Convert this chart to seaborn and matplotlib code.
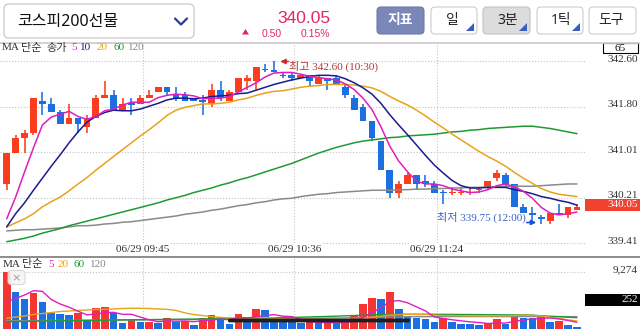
import numpy as np
import pandas as pd
import matplotlib
matplotlib.use("Agg")
import matplotlib.pyplot as plt
import seaborn as sns
from matplotlib.patches import FancyBboxPatch, Rectangle, Polygon

# ---------------- data ----------------
TITLE = "코스피200선물"
CHANGE = "0.50"
CHANGE_PCT = "0.15%"
BUTTONS = ["지표", "일", "3분", "1틱", "도구"]
BAR_COUNT_LABEL = "65"
TIME_LABELS = ["06/29 09:45", "06/29 10:36", "06/29 11:24"]
SESSION_START = "09:00"
BAR_MINUTES = 3

open_ = [340.45, 341.00, 341.25, 341.35, 341.90, 341.85, 341.70, 341.50, 341.60, 341.45,
         341.60, 341.95, 342.00, 341.75, 341.85, 341.85, 341.95, 342.05, 342.15, 342.00,
         342.00, 341.95, 341.90, 341.85, 342.10, 341.90, 342.05, 342.25, 342.25, 342.45,
         342.45, 342.35, 342.35, 342.30, 342.35, 342.20, 342.30, 342.30, 342.15, 341.95,
         341.80, 341.55, 341.20, 340.70, 340.30, 340.45, 340.60, 340.50, 340.45, 340.30,
         340.30, 340.30, 340.30, 340.35, 340.40, 340.55, 340.60, 340.45, 340.05, 339.95,
         339.85, 339.80, 339.95, 339.90, 340.00]
high_ = [341.00, 341.30, 341.40, 341.95, 342.05, 341.95, 341.75, 341.85, 341.60, 341.65,
         342.00, 342.25, 342.10, 341.95, 341.95, 342.00, 342.10, 342.15, 342.15, 342.15,
         342.05, 341.95, 342.00, 342.20, 342.25, 342.10, 342.30, 342.35, 342.50, 342.55,
         342.60, 342.40, 342.40, 342.35, 342.35, 342.35, 342.30, 342.35, 342.20, 342.00,
         341.85, 341.55, 341.20, 340.70, 340.50, 340.65, 340.60, 340.60, 340.50, 340.35,
         340.40, 340.40, 340.40, 340.40, 340.50, 340.70, 340.65, 340.45, 340.10, 340.05,
         339.90, 339.95, 340.10, 340.05, 340.10]
low_ = [340.35, 341.00, 341.00, 341.30, 341.65, 341.70, 341.50, 341.50, 341.35, 341.35,
        341.60, 341.95, 341.75, 341.75, 341.65, 341.85, 341.95, 342.05, 342.00, 341.90,
        341.90, 341.90, 341.65, 341.80, 341.90, 341.90, 342.05, 342.10, 342.10, 342.40,
        342.40, 342.30, 342.25, 342.30, 342.15, 342.20, 342.10, 342.20, 341.95, 341.75,
        341.55, 341.20, 340.70, 340.20, 340.20, 340.45, 340.35, 340.40, 340.30, 340.10,
        340.25, 340.25, 340.25, 340.30, 340.35, 340.50, 340.40, 340.05, 339.95, 339.80,
        339.75, 339.75, 339.90, 339.85, 340.00]
close_ = [341.00, 341.25, 341.35, 341.95, 341.85, 341.70, 341.50, 341.60, 341.50, 341.60,
          341.95, 342.00, 341.75, 341.85, 341.85, 341.95, 342.00, 342.15, 342.05, 341.95,
          341.90, 341.90, 341.90, 342.10, 341.95, 342.05, 342.30, 342.30, 342.50, 342.45,
          342.40, 342.35, 342.30, 342.35, 342.25, 342.30, 342.25, 342.20, 342.00, 341.75,
          341.55, 341.25, 340.70, 340.30, 340.45, 340.60, 340.45, 340.45, 340.30, 340.30,
          340.30, 340.30, 340.30, 340.35, 340.50, 340.65, 340.45, 340.05, 339.95, 339.90,
          339.85, 339.95, 339.90, 340.05, 340.05]
candle_dir = ("RRRRBBBRBR" "RRBRBRRRBB" "BBBRBRRRRB" "BBBRBRBBBB"
              "BBBBRRBBBB" "RRRRRRBBBB" "BRBRR")

ma5 = [339.84, 340.22, 340.66, 341.08, 341.48, 341.62, 341.67, 341.72, 341.63, 341.58,
       341.63, 341.73, 341.76, 341.83, 341.88, 341.88, 341.88, 341.96, 342.00, 342.02,
       342.01, 341.99, 341.94, 341.95, 341.95, 341.98, 342.06, 342.14, 342.22, 342.32,
       342.39, 342.40, 342.40, 342.37, 342.33, 342.31, 342.29, 342.27, 342.20, 342.10,
       341.95, 341.75, 341.45, 341.11, 340.85, 340.66, 340.50, 340.45, 340.45, 340.42,
       340.36, 340.33, 340.30, 340.31, 340.35, 340.42, 340.45, 340.40, 340.32, 340.20,
       340.04, 339.94, 339.91, 339.93, 339.96]
ma10 = [339.70, 339.93, 340.12, 340.34, 340.55, 340.76, 340.96, 341.17, 341.36, 341.53,
        341.63, 341.70, 341.74, 341.73, 341.73, 341.76, 341.81, 341.86, 341.92, 341.95,
        341.95, 341.94, 341.95, 341.98, 341.99, 342.00, 342.03, 342.04, 342.09, 342.14,
        342.19, 342.23, 342.27, 342.30, 342.33, 342.35, 342.35, 342.34, 342.29, 342.22,
        342.13, 342.02, 341.86, 341.66, 341.48, 341.31, 341.13, 340.95, 340.78, 340.64,
        340.51, 340.42, 340.38, 340.38, 340.39, 340.39, 340.39, 340.35, 340.32, 340.28,
        340.23, 340.20, 340.16, 340.13, 340.08]
ma20 = [339.70, 339.77, 339.84, 339.93, 340.05, 340.14, 340.22, 340.33, 340.45, 340.56,
        340.69, 340.81, 340.93, 341.05, 341.17, 341.29, 341.40, 341.52, 341.65, 341.74,
        341.79, 341.82, 341.85, 341.85, 341.86, 341.88, 341.92, 341.95, 342.00, 342.04,
        342.07, 342.08, 342.11, 342.14, 342.16, 342.17, 342.19, 342.19, 342.19, 342.18,
        342.16, 342.13, 342.07, 341.98, 341.90, 341.83, 341.74, 341.64, 341.53, 341.43,
        341.32, 341.22, 341.12, 341.02, 340.93, 340.85, 340.76, 340.65, 340.55, 340.46,
        340.37, 340.31, 340.27, 340.25, 340.23]
ma60 = [339.44, 339.47, 339.50, 339.54, 339.59, 339.63, 339.67, 339.72, 339.76, 339.80,
        339.84, 339.88, 339.92, 339.96, 340.00, 340.04, 340.08, 340.12, 340.17, 340.21,
        340.25, 340.30, 340.34, 340.38, 340.43, 340.47, 340.52, 340.56, 340.61, 340.66,
        340.71, 340.76, 340.81, 340.87, 340.93, 340.99, 341.04, 341.09, 341.13, 341.17,
        341.20, 341.22, 341.24, 341.26, 341.27, 341.29, 341.30, 341.31, 341.32, 341.34,
        341.36, 341.37, 341.39, 341.40, 341.42, 341.43, 341.44, 341.45, 341.46, 341.46,
        341.44, 341.42, 341.39, 341.36, 341.33]
ma120 = [339.63, 339.64, 339.65, 339.65, 339.66, 339.67, 339.68, 339.70, 339.72, 339.72,
         339.73, 339.75, 339.76, 339.78, 339.79, 339.81, 339.83, 339.85, 339.87, 339.89,
         339.92, 339.94, 339.96, 339.99, 340.01, 340.04, 340.07, 340.09, 340.12, 340.14,
         340.17, 340.19, 340.20, 340.23, 340.25, 340.27, 340.28, 340.30, 340.31, 340.32,
         340.33, 340.34, 340.34, 340.34, 340.35, 340.35, 340.36, 340.36, 340.37, 340.37,
         340.38, 340.38, 340.39, 340.39, 340.40, 340.40, 340.41, 340.41, 340.41, 340.41,
         340.42, 340.43, 340.44, 340.45, 340.45]

volume = [9274, 6040, 4860, 5880, 4420, 2640, 2430, 2270, 2640, 1460,
          3350, 3510, 2540, 1020, 1460, 1150, 1200, 1020, 1730, 1180,
          1340, 650, 1730, 2270, 1990, 810, 2430, 1460, 3190, 3080,
          1460, 1180, 1150, 920, 1180, 920, 1020, 920, 1180, 2270,
          4000, 4970, 4860, 6040, 3190, 2100, 1730, 1570, 1180, 1830,
          1180, 810, 790, 650, 1020, 1570, 810, 2100, 1830, 1730,
          2100, 1180, 1250, 650, 252]
vma5 = [4420, 4940, 5500, 6200, 6095, 4768, 4046, 3528, 2880, 2288,
        2430, 2646, 2700, 2376, 2376, 1936, 1474, 1170, 1312, 1256,
        1294, 1184, 1326, 1434, 1596, 1490, 1846, 1792, 1976, 2194,
        2324, 2074, 2012, 1558, 1178, 1070, 1038, 992, 1044, 1262,
        1878, 2668, 3456, 4428, 4612, 4232, 3584, 2926, 1954, 1682,
        1498, 1314, 1158, 1052, 890, 968, 968, 1230, 1466, 1608,
        1714, 1788, 1618, 1382, 1086]
vma20 = [1730, 1940, 2100, 2350, 2510, 2670, 2830, 2910, 2990, 3080,
         3160, 3190, 3240, 3320, 3350, 3350, 3320, 3240, 3190, 3004,
         2607, 2338, 2181, 2001, 1879, 1788, 1788, 1747, 1775, 1856,
         1761, 1645, 1575, 1570, 1556, 1545, 1536, 1531, 1503, 1558,
         1691, 1907, 2063, 2252, 2312, 2376, 2341, 2347, 2246, 2184,
         2170, 2151, 2133, 2120, 2112, 2144, 2134, 2193, 2225, 2198,
         2103, 1914, 1733, 1464, 1317]
vma60 = [1180, 1200, 1230, 1260, 1290, 1310, 1330, 1350, 1370, 1390,
         1410, 1430, 1450, 1470, 1490, 1500, 1520, 1540, 1560, 1570,
         1590, 1600, 1620, 1640, 1660, 1680, 1700, 1730, 1760, 1790,
         1820, 1850, 1880, 1910, 1950, 1990, 2030, 2080, 2130, 2180,
         2230, 2280, 2320, 2350, 2370, 2380, 2380, 2380, 2380, 2370,
         2360, 2350, 2340, 2330, 2310, 2300, 2290, 2280, 2270, 2250,
         2134, 2053, 1992, 1905, 1836]
vma120 = [1340, 1345, 1350, 1360, 1370, 1380, 1390, 1400, 1410, 1420,
          1430, 1440, 1450, 1460, 1470, 1480, 1490, 1500, 1510, 1520,
          1530, 1540, 1550, 1560, 1575, 1590, 1605, 1620, 1635, 1650,
          1665, 1680, 1695, 1710, 1725, 1740, 1760, 1780, 1800, 1820,
          1850, 1880, 1910, 1940, 1960, 1975, 1985, 1995, 2000, 2005,
          2010, 2010, 2010, 2010, 2010, 2010, 2010, 2015, 2020, 2020,
          2020, 2015, 2010, 2000, 1990]

price_ticks = [339.41, 340.2075, 341.005, 341.8025, 342.60]
price_tick_labels = ["339.41", "340.21", "341.01", "341.80", "342.60"]
vol_tick = 9274
vol_tick_label = "9,274"

# ---------------- style ----------------
sns.set_theme(style="white")
SERIF = ['Liberation Serif', 'Noto Sans CJK KR']
SANS = ['Noto Sans', 'Noto Sans CJK KR']
LSANS = ['Liberation Sans', 'DejaVu Sans']
plt.rcParams['font.family'] = SERIF

RED = "#fb3d1d"
BLUE = "#1c6fde"
VRED = "#f53434"
VBLUE = "#1c6fde"
C_MA5 = "#dd1fbf"
C_MA10 = "#1b1b8e"
C_MA20 = "#e9a21a"
C_MA60 = "#1f9a33"
C_MA120 = "#8a8a8a"
PINK = "#e2266b"
TXT = "#333333"
GRID = "#c4c4c4"

W, H = 640, 329
fig = plt.figure(figsize=(W / 100, H / 100), dpi=100)
fig.patch.set_facecolor("white")


def rect(x0, y0, x1, y1):
    return [x0 / W, 1 - y1 / H, (x1 - x0) / W, (y1 - y0) / H]


ax = fig.add_axes(rect(0, 43, 585, 257))
axv = fig.add_axes(rect(0, 258, 585, 329))
ui = fig.add_axes([0, 0, 1, 1])
ui.set_xlim(0, W)
ui.set_ylim(H, 0)
ui.axis("off")

n = len(close_)
idx = np.arange(n)
o = np.array(open_)
c = np.array(close_)
hi = np.array(high_)
lo = np.array(low_)


def bar_index(label):
    hh, mm = label.split()[1].split(":")
    sh, sm = SESSION_START.split(":")
    return ((int(hh) * 60 + int(mm)) - (int(sh) * 60 + int(sm))) / BAR_MINUTES


grid_x = [bar_index(t) + 0.3 for t in TIME_LABELS]

for a in (ax, axv):
    a.set_facecolor("none")
    for s in a.spines.values():
        s.set_visible(False)
    a.set_xlim(-0.752, 64.905)
    a.set_xticks(grid_x)
    a.tick_params(bottom=False, left=False, right=False, top=False,
                  labelbottom=False, labelleft=False, labelright=False)
    a.grid(True, color=GRID, ls=(0, (1, 1.6)), lw=0.8)

ax.set_ylim(339.173, 342.915)
ax.set_yticks(price_ticks)
axv.set_ylim(0, 11491)
axv.set_yticks([vol_tick])

# candles
cols = [RED if d == "R" else BLUE for d in candle_dir]
body = np.abs(c - o)
bh = np.maximum(body, 0.028)
bottom = np.minimum(o, c) - (bh - body) / 2
ax.vlines(idx, lo, hi, colors=cols, lw=1.15, zorder=3)
ax.bar(idx, bh, bottom=bottom, width=0.76, color=cols, linewidth=0, zorder=4)

# moving averages (price)
for series, colr in [(ma120, C_MA120), (ma60, C_MA60), (ma20, C_MA20),
                     (ma10, C_MA10), (ma5, C_MA5)]:
    sns.lineplot(x=idx, y=series, ax=ax, color=colr, lw=1.1, zorder=5)
ax.set_xlabel("")
ax.set_ylabel("")

# volume bars
vol = np.array(volume)
vdir = ["up"] + ["up" if vol[i] > vol[i - 1] else "down" for i in range(1, n)]
dfv = pd.DataFrame({"i": idx, "vol": vol, "dir": vdir})
sns.barplot(data=dfv, x="i", y="vol", hue="dir", palette={"up": VRED, "down": VBLUE},
            native_scale=True, width=0.86, dodge=False, legend=False, errorbar=None,
            saturation=1, linewidth=0, ax=axv, zorder=3)
for series, colr in [(vma120, C_MA120), (vma60, C_MA60), (vma20, C_MA20), (vma5, C_MA5)]:
    sns.lineplot(x=idx, y=series, ax=axv, color=colr, lw=1.0, zorder=5)
axv.set_xlim(-0.752, 64.905)
axv.set_ylim(0, 11491)
axv.set_xlabel("")
axv.set_ylabel("")

PT = 0.72  # px -> pt at 100 dpi

# right-side price labels
for t, lab in zip(price_ticks, price_tick_labels):
    ax.annotate(lab, xy=(1, t), xycoords=("axes fraction", "data"),
                xytext=(53 * PT, 2.0 * PT), textcoords="offset points",
                ha="right", va="center", fontsize=8, color=TXT, annotation_clip=False)
axv.annotate(vol_tick_label, xy=(1, vol_tick), xycoords=("axes fraction", "data"),
             xytext=(53 * PT, 1.8 * PT), textcoords="offset points",
             ha="right", va="center", fontsize=8, color=TXT, annotation_clip=False)

# time labels
for gx, lab in zip(grid_x, TIME_LABELS):
    ax.annotate(lab, xy=(gx, 0), xycoords=("data", "axes fraction"),
                xytext=(0, 8 * PT), textcoords="offset points", ha="center", va="center",
                fontsize=8, color=TXT,
                bbox=dict(boxstyle="square,pad=0.1", fc="white", ec="none"))

# high / low annotations
i_hi = int(np.argmax(hi))
i_lo = int(np.argmin(lo))
hi_time = "10:30"
lo_time = "12:00"
ui.annotate("", xy=(277.5, 61.5), xytext=(291, 61.5),
            arrowprops=dict(arrowstyle="-|>", color="#d02828", lw=1.2, mutation_scale=7))
ui.text(289, 66, f"최고 {hi[i_hi]:.2f} ({hi_time})", ha="left", va="center",
        fontsize=8, color="#b23434")
ui.text(437, 217, f"최저 {lo[i_lo]:.2f} ({lo_time})", ha="left", va="center",
        fontsize=8, color="#3a62c2")
ui.annotate("", xy=(539, 222.5), xytext=(524, 222.5),
            arrowprops=dict(arrowstyle="-|>", color="#1f4fd0", lw=1.2, mutation_scale=7))

# legends
for s, x, colr in [("MA", 2, TXT), ("단순", 21, TXT), ("송가", 46, TXT), ("5", 71, C_MA5),
                   ("10", 80, C_MA10), ("20", 97, C_MA20), ("60", 113, C_MA60),
                   ("120", 128, C_MA120)]:
    ui.text(x, 48, s, ha="left", va="center", fontsize=8, color=colr)
for s, x, colr in [("MA", 3, TXT), ("단순", 22, TXT), ("5", 48, C_MA5), ("20", 58, C_MA20),
                   ("60", 74, C_MA60), ("120", 90, C_MA120)]:
    ui.text(x, 264.3, s, ha="left", va="center", fontsize=8, color=colr)

# separators
ui.plot([0, W], [42.5, 42.5], color="#cfcfcf", lw=1.3)
ui.plot([0, W], [257.2, 257.2], color="#6e6e6e", lw=1.1)

# boxes on the right
ui.add_patch(Rectangle((603, 43.2), 35, 10.3, fc="white", ec="black", lw=0.8))
ui.text(620.5, 48.5, BAR_COUNT_LABEL, ha="center", va="center", fontsize=8, color="#111")
ui.add_patch(Rectangle((585, 198.5), 55, 12.5, fc="#f0422f", ec="none"))
ui.text(638, 204.8, f"{c[-1]:.2f}", ha="right", va="center", fontsize=8, color="white")
ui.add_patch(Rectangle((585, 293.5), 55, 12.5, fc="black", ec="none"))
ui.text(638, 299.8, f"{vol[-1]:,}", ha="right", va="center", fontsize=8, color="white")

# dark band in volume panel and close icon
ui.add_patch(FancyBboxPatch((228, 318.6), 182, 3.8, boxstyle="round,pad=0,rounding_size=1.5",
                            fc="#1e1e1e", ec="none"))
ui.add_patch(FancyBboxPatch((8, 270.5), 17, 14, boxstyle="round,pad=0,rounding_size=3",
                            fc="#f6f6f6", ec="#d6d6d6", lw=0.8, alpha=0.9))
ui.text(16.5, 278, "×", ha="center", va="center", fontsize=8, color="#9c9c9c",
        family=['DejaVu Sans'])

# ---------------- header ----------------
ui.add_patch(FancyBboxPatch((4, 4), 190, 34, boxstyle="round,pad=0,rounding_size=5",
                            fc="white", ec="#c9c9c9", lw=0.9))
ui.text(17, 22, TITLE, ha="left", va="center", fontsize=11.5, color="#111",
        family=SANS)
ui.plot([175, 181, 187], [18.5, 24.5, 18.5], color="#2d3c8c", lw=1.6,
        solid_capstyle="round", solid_joinstyle="round")

ui.text(330, 18.7, f"{c[-1]:.2f}", ha="right", va="center", fontsize=12.5, color=PINK,
        family=LSANS)
ui.add_patch(Polygon([(242, 34.5), (249, 34.5), (245.5, 29)], closed=True, fc=PINK, ec="none"))
ui.text(282, 34.3, CHANGE, ha="right", va="center", fontsize=7.5, color=PINK, family=LSANS)
ui.text(330, 34.3, CHANGE_PCT, ha="right", va="center", fontsize=7.5, color=PINK, family=LSANS)

btn_boxes = [(377, 424), (431, 477), (483, 530), (537, 583), (589, 636)]
btn_text_x = [400.5, 452, 507.5, 561, 611]
btn_fill = ["#7b87b8", "white", "#dcdcdc", "white", "white"]
btn_edge = ["#6f7aab", "#cccccc", "#c2c2c2", "#cccccc", "#cccccc"]
btn_tcol = ["white", "#222", "#222", "#222", "#222"]
btn_tri = [False, True, True, True, False]
for lab, (x0, x1), tx, fcol, ecol, tcol, tri in zip(BUTTONS, btn_boxes, btn_text_x, btn_fill,
                                                    btn_edge, btn_tcol, btn_tri):
    ui.add_patch(FancyBboxPatch((x0, 7), x1 - x0, 27, boxstyle="round,pad=0,rounding_size=4",
                                fc=fcol, ec=ecol, lw=0.8))
    ui.text(tx, 20.5, lab, ha="center", va="center", fontsize=10, color=tcol, family=SANS,
            weight="bold" if lab == BUTTONS[0] else "normal")
    if tri:
        ui.add_patch(Polygon([(x1 - 3, 23), (x1 - 3, 31), (x1 - 11, 31)], closed=True,
                             fc="#3b5cc4", ec="none"))

fig.savefig("out.png", dpi=100, facecolor="white")
